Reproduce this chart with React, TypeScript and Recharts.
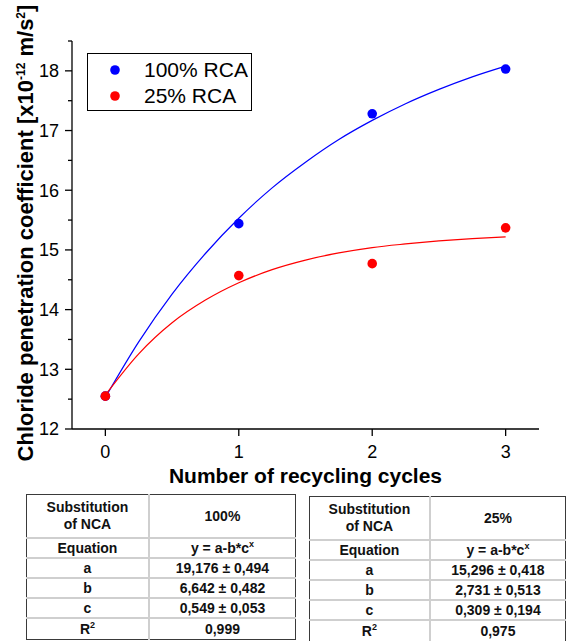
import {
  ComposedChart, Line, Scatter, XAxis, YAxis, Legend, Label,
} from 'recharts'

// measured values (recycling cycle vs chloride coefficient)
const cycles = [0, 1, 2, 3]
const rca100 = [12.55, 15.44, 17.28, 18.03]
const rca25 = [12.55, 14.57, 14.77, 15.37]

// fitted curves y = a - b*c^x, read along x
const fitX = [0, 0.25, 0.5, 0.75, 1, 1.25, 1.5, 1.75, 2, 2.25, 2.5, 2.75, 3]
const fit100 = [12.53, 13.46, 14.26, 14.94, 15.53, 16.04, 16.47, 16.85, 17.17, 17.45, 17.69, 17.9, 18.08]
const fit25 = [12.57, 13.26, 13.78, 14.16, 14.45, 14.67, 14.83, 14.95, 15.04, 15.1, 15.15, 15.19, 15.22]

const yTicks = [12, 12.5, 13, 13.5, 14, 14.5, 15, 15.5, 16, 16.5, 17, 17.5, 18, 18.5]
const xTicks = [0, 1, 2, 3]

// fit parameter tables
const tableRows = ['a', 'b', 'c']
const params100 = ['19,176 ± 0,494', '6,642 ± 0,482', '0,549 ± 0,053']
const params25 = ['15,296 ± 0,418', '2,731 ± 0,513', '0,309 ± 0,194']
const r2Values = ['0,999', '0,975']
const substitutions = ['100%', '25%']

const BLUE = '#0000FF'
const RED = '#FF0000'
const FONT = 'Arial, "Liberation Sans", sans-serif'

const pts100 = cycles.map((x, i) => ({ x, y: rca100[i] }))
const pts25 = cycles.map((x, i) => ({ x, y: rca25[i] }))
const curve100 = fitX.map((x, i) => ({ x, y: fit100[i] }))
const curve25 = fitX.map((x, i) => ({ x, y: fit25[i] }))

const YTick = (props: any) => {
  const { x, y, payload } = props
  const major = Number.isInteger(payload.value)
  return (
    <g>
      <line x1={x - (major ? 7 : 4)} x2={x} y1={y} y2={y} stroke="#000" strokeWidth={1.3} />
      {major && (
        <text x={x - 13} y={y} dy="0.35em" textAnchor="end" fontSize={18} fontFamily={FONT} fill="#000">
          {payload.value}
        </text>
      )}
    </g>
  )
}

const Dot = (color: string) => (props: any) => (
  <circle cx={props.cx} cy={props.cy} r={4.8} fill={color} />
)

const LegendBox = () => (
  <div
    style={{
      width: 165, height: 58, border: '1px solid #000', background: '#fff',
      fontFamily: FONT, fontSize: 21, color: '#000', boxSizing: 'border-box',
      position: 'relative',
    }}
  >
    {[{ c: BLUE, t: '100% RCA', top: 4 }, { c: RED, t: '25% RCA', top: 30 }].map((e) => (
      <div key={e.t} style={{ position: 'absolute', left: 0, top: e.top, height: 24, display: 'flex', alignItems: 'center' }}>
        <svg width={56} height={24}>
          <circle cx={27} cy={12} r={4.8} fill={e.c} />
        </svg>
        <span style={{ lineHeight: '24px' }}>{e.t}</span>
      </div>
    ))}
  </div>
)

const cell: React.CSSProperties = {
  borderBottom: '2px solid #cfcfcf',
  textAlign: 'center',
  padding: 0,
  fontWeight: 'bold',
  fontFamily: FONT,
  fontSize: 14,
  color: '#111',
}

function ParamTable({ left, top, w1, w2, sub, params, r2 }: {
  left: number; top: number; w1: number; w2: number; sub: string; params: string[]; r2: string
}) {
  const firstCol: React.CSSProperties = { ...cell, width: w1, borderRight: '2px solid #cfcfcf' }
  const second: React.CSSProperties = { ...cell, width: w2 }
  const sup: React.CSSProperties = { fontSize: 9, verticalAlign: 6, lineHeight: 0 }
  return (
    <table
      style={{
        position: 'absolute', left, top, width: w1 + w2, borderCollapse: 'collapse',
        border: '1.5px solid #3a3a3a',
      }}
    >
      <tbody>
        <tr style={{ height: 43 }}>
          <td style={{ ...firstCol, lineHeight: '17px' }}>Substitution<br />of NCA</td>
          <td style={second}>{sub}</td>
        </tr>
        <tr style={{ height: 20 }}>
          <td style={firstCol}>Equation</td>
          <td style={second}>y = a-b*c<sup style={sup}>x</sup></td>
        </tr>
        {tableRows.map((r, i) => (
          <tr key={r} style={{ height: 20 }}>
            <td style={firstCol}>{r}</td>
            <td style={second}>{params[i]}</td>
          </tr>
        ))}
        <tr style={{ height: 22 }}>
          <td style={{ ...firstCol, borderBottom: 'none' }}>R<sup style={sup}>2</sup></td>
          <td style={{ ...second, borderBottom: 'none' }}>{r2}</td>
        </tr>
      </tbody>
    </table>
  )
}

export default function App() {
  return (
    <div style={{ position: 'absolute', left: 0, top: 0, width: 572, height: 641, background: '#fff' }}>
      <ComposedChart
        width={572}
        height={495}
        margin={{ top: 41, right: 33, bottom: 36, left: 0 }}
        style={{ fontFamily: FONT }}
      >
        <XAxis
          type="number"
          dataKey="x"
          domain={[-0.25, 3.25]}
          ticks={xTicks}
          allowDuplicatedCategory={false}
          height={30}
          tickSize={7}
          tickMargin={9}
          stroke="#000"
          axisLine={{ stroke: '#000', strokeWidth: 1.3 }}
          tickLine={{ stroke: '#000', strokeWidth: 1.3 }}
          tick={{ fontSize: 18, fill: '#000', fontFamily: FONT }}
        >
          <Label
            content={() => (
              <text x={305.5} y={483} textAnchor="middle" fontSize={21} fontWeight="bold" fontFamily={FONT} fill="#000">
                Number of recycling cycles
              </text>
            )}
          />
        </XAxis>
        <YAxis
          type="number"
          domain={[12, 18.5]}
          ticks={yTicks}
          interval={0}
          width={72}
          tickSize={0}
          tickMargin={0}
          axisLine={{ stroke: '#000', strokeWidth: 1.3 }}
          tickLine={false}
          tick={<YTick />}
        >
          <Label
            content={() => (
              <text
                x={33}
                y={233}
                transform="rotate(-90, 33, 233)"
                textAnchor="middle"
                fontSize={22}
                fontWeight="bold"
                fontFamily={FONT}
                fill="#000"
              >
                <tspan>Chloride penetration coefficient [x10</tspan>
                <tspan dy={-8} fontSize={12}>-12</tspan>
                <tspan dy={8}>{'  m/s'}</tspan>
                <tspan dy={-8} fontSize={12}>2</tspan>
                <tspan dy={8}>]</tspan>
              </text>
            )}
          />
        </YAxis>
        <Legend
          layout="horizontal"
          verticalAlign="middle"
          align="center"
          content={<LegendBox />}
          wrapperStyle={{ position: 'absolute', left: 87, top: 53, width: 165, height: 58 }}
        />
        <Line data={curve100} dataKey="y" type="monotone" stroke={BLUE} strokeWidth={1.2} dot={false} isAnimationActive={false} legendType="none" />
        <Line data={curve25} dataKey="y" type="monotone" stroke={RED} strokeWidth={1.2} dot={false} isAnimationActive={false} legendType="none" />
        <Scatter data={pts100} dataKey="y" fill={BLUE} shape={Dot(BLUE)} isAnimationActive={false} name="100% RCA" />
        <Scatter data={pts25} dataKey="y" fill={RED} shape={Dot(RED)} isAnimationActive={false} name="25% RCA" />
      </ComposedChart>
      <ParamTable left={26} top={494} w1={122} w2={148} sub={substitutions[0]} params={params100} r2={r2Values[0]} />
      <ParamTable left={309} top={496} w1={120} w2={137} sub={substitutions[1]} params={params25} r2={r2Values[1]} />
    </div>
  )
}
